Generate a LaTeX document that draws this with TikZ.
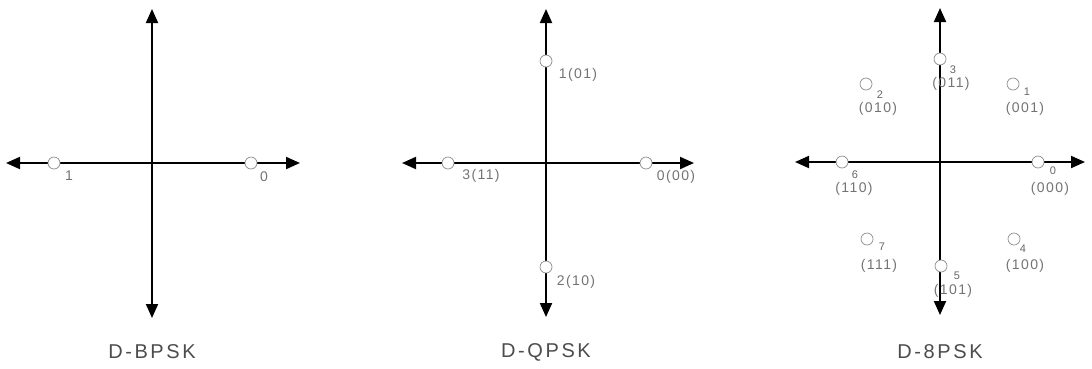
\documentclass[tikz,border=0pt]{standalone}
\usepackage{fontspec}
\setmainfont{Liberation Sans}
\usetikzlibrary{arrows.meta}
\tikzset{
  axis/.style={line width=2pt, {Triangle[length=14pt,width=12pt]}-{Triangle[length=14pt,width=12pt]}},
  sym/.style={circle, draw=black!45, line width=0.7pt, fill=white, minimum size=12pt, inner sep=0pt},
  lbl/.style={text=black!55, inner sep=0pt, font=\fontsize{14}{14}\selectfont\addfontfeature{LetterSpace=10}},
  idx/.style={text=black!60, inner sep=0pt, font=\fontsize{11}{11}\selectfont},
  title/.style={text=black!70, inner sep=0pt, font=\fontsize{20}{20}\selectfont\addfontfeature{LetterSpace=13}}
}
\begin{document}
\begin{tikzpicture}[x=1pt, y=-1pt]
  \useasboundingbox (0,0) rectangle (1092,368);

  % D-BPSK
  \coordinate (bl) at (6,163);
  \coordinate (br) at (300,163);
  \coordinate (bt) at (152,9);
  \coordinate (bb) at (152,318);
  \draw[axis] (bl) -- (br);
  \draw[axis] (bt) -- (bb);
  \node[sym] (b1) at (54,163) {};
  \node[sym] (b0) at (251,163) {};
  \node[lbl] (b1l) at (69,176) {1};
  \node[lbl] (b0l) at (264,177) {0};
  \node[title] (btitle) at (152,352) {D-BPSK};

  % D-QPSK
  \coordinate (ql) at (402,163);
  \coordinate (qr) at (694,163);
  \coordinate (qt) at (546,9);
  \coordinate (qb) at (546,317);
  \draw[axis] (ql) -- (qr);
  \draw[axis] (qt) -- (qb);
  \node[sym] (q0) at (646,163) {};
  \node[sym] (q1) at (546,61) {};
  \node[sym] (q2) at (546,267) {};
  \node[sym] (q3) at (448,163) {};
  \node[lbl] (q0l) at (676,177) {0(00)};
  \node[lbl] (q1l) at (578,75) {1(01)};
  \node[lbl] (q2l) at (576,282) {2(10)};
  \node[lbl] (q3l) at (481,176) {3(11)};
  \node[title] (qtitle) at (546,352) {D-QPSK};

  % D-8PSK
  \coordinate (el) at (795,162);
  \coordinate (er) at (1085,162);
  \coordinate (et) at (940,8);
  \coordinate (eb) at (940,315);
  \draw[axis] (el) -- (er);
  \draw[axis] (et) -- (eb);
  \node[sym] (e0) at (1038,162) {};
  \node[sym] (e1) at (1013,84) {};
  \node[sym] (e2) at (866,84) {};
  \node[sym] (e3) at (940,59) {};
  \node[sym] (e4) at (1014,239) {};
  \node[sym] (e5) at (941,266) {};
  \node[sym] (e6) at (842,162) {};
  \node[sym] (e7) at (867,239) {};
  \node[idx] (e0i) at (1053,171) {0};
  \node[idx] (e1i) at (1027,92) {1};
  \node[idx] (e2i) at (880,95) {2};
  \node[idx] (e3i) at (953,70) {3};
  \node[idx] (e4i) at (1023,249) {4};
  \node[idx] (e5i) at (957,276) {5};
  \node[idx] (e6i) at (855,175) {6};
  \node[idx] (e7i) at (882,247) {7};
  \node[lbl] (e0l) at (1050,189) {(000)};
  \node[lbl] (e1l) at (1025,109) {(001)};
  \node[lbl] (e2l) at (878,109) {(010)};
  \node[lbl] (e3l) at (951,84) {(011)};
  \node[lbl] (e4l) at (1025,266) {(100)};
  \node[lbl] (e5l) at (953,291) {(101)};
  \node[lbl] (e6l) at (854,189) {(110)};
  \node[lbl] (e7l) at (879,266) {(111)};
  \node[title] (etitle) at (940,352) {D-8PSK};
\end{tikzpicture}
\end{document}
